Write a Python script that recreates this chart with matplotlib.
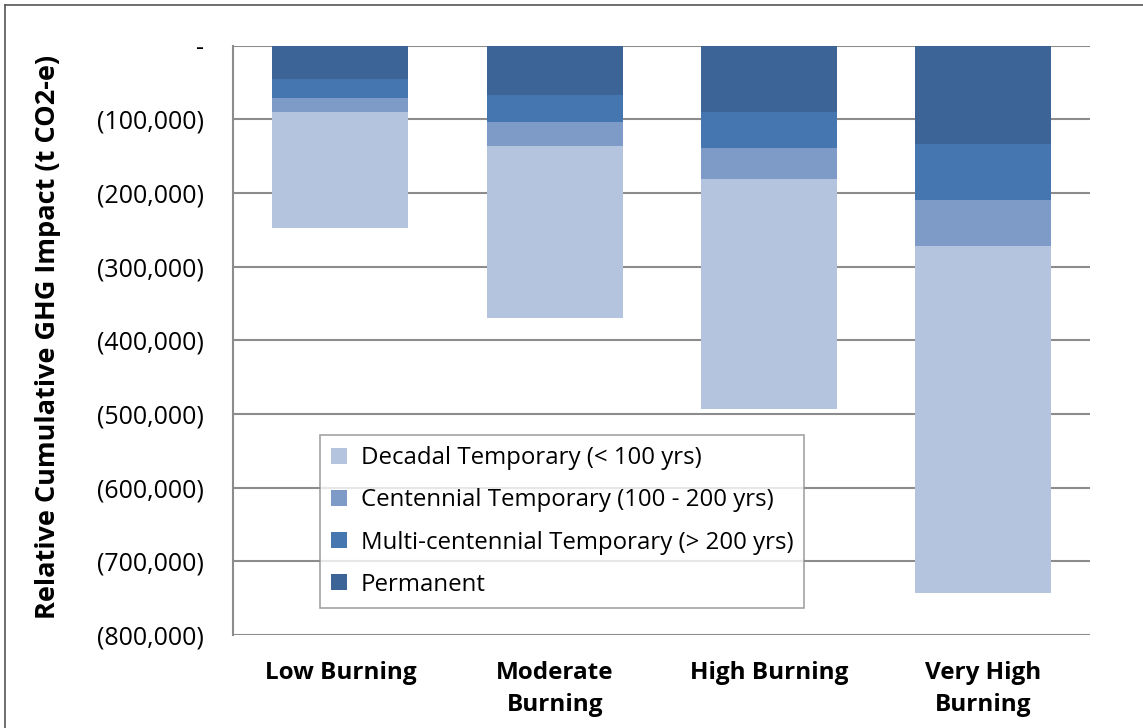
import numpy as np
import matplotlib.pyplot as plt
from matplotlib.lines import Line2D

plt.rcParams['font.family'] = ['Open Sans', 'DejaVu Sans']

# scenario names and stacked components (t CO2-e, negative = reduction)
scenarios = ['Low Burning', 'Moderate\nBurning', 'High Burning', 'Very High\nBurning']
permanent = [-44600, -66200, -89200, -133800]
multi_cent = [-25700, -37400, -50000, -75700]
centennial = [-19800, -32900, -42300, -62100]
decadal = [-157200, -233800, -311500, -471000]

series_names = ['Permanent', 'Multi-centennial Temporary (> 200 yrs)',
                'Centennial Temporary (100 - 200 yrs)', 'Decadal Temporary (< 100 yrs)']
colors = ['#3C6496', '#4676AF', '#7E9BC8', '#B4C3DE']

yticks = [0, -100000, -200000, -300000, -400000, -500000, -600000, -700000, -800000]


def fmt(v):
    if v == 0:
        return '-'
    return '({:,})'.format(int(abs(v)))


fig = plt.figure(figsize=(11.43, 7.28), dpi=100)
ax = fig.add_axes([0.204, 0.128, 0.75, 0.809])

x = np.arange(len(scenarios))
bottom = np.zeros(len(scenarios))
handles = []
for vals, name, c in zip([permanent, multi_cent, centennial, decadal], series_names, colors):
    vals = np.array(vals, dtype=float)
    b = ax.bar(x, vals, 0.635, bottom=bottom, color=c, label=name, zorder=3)
    handles.append(b)
    bottom = bottom + vals

ax.set_xlim(-0.5, 3.5)
ax.set_ylim(-800000, 0)
ax.set_yticks(yticks)
ax.set_yticklabels([fmt(v) for v in yticks], fontsize=18)
ax.yaxis.grid(True, color='#8C8C8C', linewidth=1.5, zorder=0)
ax.set_axisbelow(True)
ax.set_xticks(x)
ax.set_xticklabels(scenarios, fontsize=17.5, fontweight='bold', va='top', linespacing=1.45)
ax.tick_params(axis='x', length=0, pad=19)
ax.tick_params(axis='y', length=0, pad=21)
for s in ['top', 'right', 'bottom']:
    ax.spines[s].set_visible(False)
ax.spines['left'].set_color('#8C8C8C')
ax.spines['left'].set_linewidth(1.5)

ax.set_ylabel('Relative Cumulative GHG Impact (t CO2-e)', fontsize=19.5, fontweight='bold')
ax.yaxis.set_label_coords(-0.201, 0.505)

leg = ax.legend(handles[::-1], series_names[::-1], loc='lower left',
                bbox_to_anchor=(0.1015, 0.046), fontsize=17.3, frameon=True,
                fancybox=False, edgecolor='#8C8C8C', handlelength=0.65, handleheight=0.65,
                labelspacing=0.76, borderpad=0.45, handletextpad=0.6, borderaxespad=0)
leg.get_frame().set_linewidth(1.2)

# outer chart border (left and top edges visible)
fig.add_artist(Line2D([0.004, 0.004], [0.0, 0.993], transform=fig.transFigure,
                      color='#555555', linewidth=1.2))
fig.add_artist(Line2D([0.004, 1.0], [0.993, 0.993], transform=fig.transFigure,
                      color='#555555', linewidth=1.2))

fig.savefig('out.png', dpi=100)
